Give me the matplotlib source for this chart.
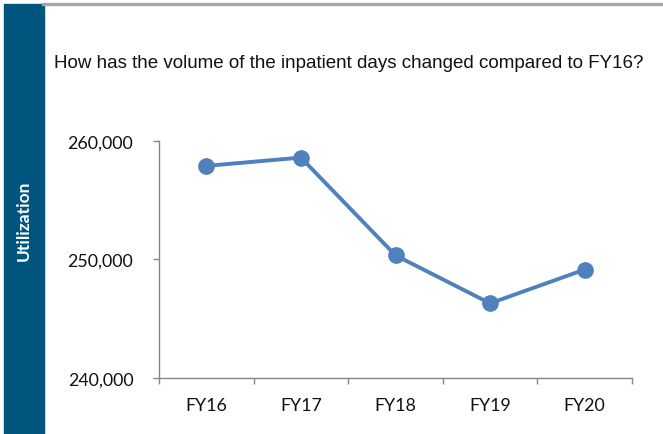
import matplotlib.pyplot as plt
from matplotlib.patches import Rectangle
from matplotlib.lines import Line2D
from matplotlib import font_manager

# donnees
years = ["FY16", "FY17", "FY18", "FY19", "FY20"]
inpatient_days = [257900, 258600, 250350, 246300, 249150]
y_ticks = [240000, 250000, 260000]

names = {f.name for f in font_manager.fontManager.ttflist}
title_font = "Liberation Sans Narrow" if "Liberation Sans Narrow" in names else "Liberation Sans"

blue = "#4F81BD"
axis_gray = "#868686"

fig = plt.figure(figsize=(6.63, 4.35), dpi=100)

# bandeau bleu a gauche + ligne grise en haut
fig.patches.append(Rectangle((4 / 663, 0), 40 / 663, 1 - 5 / 435,
                             transform=fig.transFigure, color="#00557F", zorder=0))
fig.lines.append(Line2D([43 / 663, 1], [1 - 5 / 435, 1 - 5 / 435],
                        transform=fig.transFigure, color="#A6A6A6", lw=2.4))
fig.text(24 / 663, 1 - 221 / 435, "Utilization", rotation=90, color="white",
         fontsize=12.5, fontweight="bold", family="Lato", ha="center", va="center")

fig.text(54 / 663, 1 - 63 / 435, "How has the volume of the inpatient days changed compared to FY16?",
         fontsize=13.5, family=title_font, ha="left", va="center", color="#111111")

ax = fig.add_axes([159 / 663, 1 - 379 / 435, (632 - 159) / 663, (379 - 142) / 435])
ax.plot(years, inpatient_days, color=blue, lw=2.8, marker="o", markersize=11)

ax.set_xlim(-0.5, len(years) - 0.5)
ax.set_ylim(240000, 260000)
ax.set_yticks(y_ticks)
ax.set_yticklabels([f"{v:,}" for v in y_ticks])
ax.set_xticks([i - 0.5 for i in range(len(years) + 1)], minor=True)
ax.tick_params(axis="x", which="major", length=0, pad=14)
ax.tick_params(axis="x", which="minor", length=4.5, color=axis_gray, width=1)
ax.tick_params(axis="y", length=4.5, color=axis_gray, width=1, pad=14)
for lab in ax.get_xticklabels() + ax.get_yticklabels():
    lab.set_family("Lato")
    lab.set_fontsize(12.8)
    lab.set_color("#111111")

for s in ["top", "right"]:
    ax.spines[s].set_visible(False)
for s in ["left", "bottom"]:
    ax.spines[s].set_color(axis_gray)
    ax.spines[s].set_linewidth(1)

plt.savefig("out.png", dpi=100)
